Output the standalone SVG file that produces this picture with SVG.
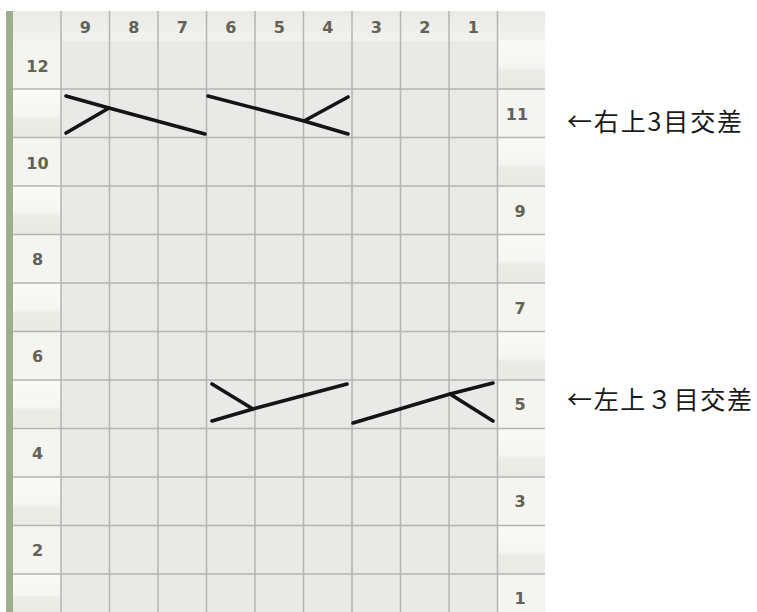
<svg xmlns="http://www.w3.org/2000/svg" width="757" height="612" viewBox="0 0 757 612">
<defs>
<linearGradient id="band" x1="0" y1="0" x2="0" y2="1">
<stop offset="0" stop-color="#fafaf7"/>
<stop offset="0.55" stop-color="#f5f5f1"/>
<stop offset="0.62" stop-color="#ececE7"/>
<stop offset="1" stop-color="#eaeae4"/>
</linearGradient>
<linearGradient id="head" x1="0" y1="0" x2="0" y2="1">
<stop offset="0" stop-color="#eaeae6"/>
<stop offset="0.5" stop-color="#ededea"/>
<stop offset="1" stop-color="#f1f1ee"/>
</linearGradient>
<style>
.cell{fill:#e9e9e7}
.lab{fill:#f4f4f0}
.grid{stroke:#b4b4b2;stroke-width:1.5;fill:none}
.num{font-family:"DejaVu Sans",Verdana,sans-serif;font-weight:bold;font-size:16px;fill:#626255;text-anchor:middle}
.cable{stroke:#141414;stroke-width:3.6;stroke-linecap:round;fill:none}
.note{font-family:"Noto Sans CJK JP","Noto Sans",sans-serif;font-size:25px;fill:#1a1a1a}
</style>
</defs>
<rect width="757" height="612" fill="#ffffff"/>
<g id="chart">
<rect x="6" y="11" width="7" height="601" fill="#9dae8c"/>
<rect x="61" y="11" width="436.5" height="601" class="cell"/>
<rect x="61" y="11" width="436.5" height="30" fill="url(#head)"/>
<rect x="13" y="11" width="48" height="30" fill="url(#head)"/>
<rect x="497.5" y="11" width="47.5" height="30" fill="url(#head)"/>
<rect x="13" y="40.5" width="48" height="48.5" class="lab"/>
<rect x="13" y="89" width="48" height="48.5" fill="url(#band)"/>
<rect x="13" y="137.5" width="48" height="48.5" class="lab"/>
<rect x="13" y="186" width="48" height="48.5" fill="url(#band)"/>
<rect x="13" y="234.5" width="48" height="48.5" class="lab"/>
<rect x="13" y="283" width="48" height="48.5" fill="url(#band)"/>
<rect x="13" y="331.5" width="48" height="48.5" class="lab"/>
<rect x="13" y="380" width="48" height="48.5" fill="url(#band)"/>
<rect x="13" y="428.5" width="48" height="48.5" class="lab"/>
<rect x="13" y="477" width="48" height="48.5" fill="url(#band)"/>
<rect x="13" y="525.5" width="48" height="48.5" class="lab"/>
<rect x="13" y="574" width="48" height="38" fill="url(#band)"/>
<rect x="497.5" y="40.5" width="47.5" height="48.5" fill="url(#band)"/>
<rect x="497.5" y="89" width="47.5" height="48.5" class="lab"/>
<rect x="497.5" y="137.5" width="47.5" height="48.5" fill="url(#band)"/>
<rect x="497.5" y="186" width="47.5" height="48.5" class="lab"/>
<rect x="497.5" y="234.5" width="47.5" height="48.5" fill="url(#band)"/>
<rect x="497.5" y="283" width="47.5" height="48.5" class="lab"/>
<rect x="497.5" y="331.5" width="47.5" height="48.5" fill="url(#band)"/>
<rect x="497.5" y="380" width="47.5" height="48.5" class="lab"/>
<rect x="497.5" y="428.5" width="47.5" height="48.5" fill="url(#band)"/>
<rect x="497.5" y="477" width="47.5" height="48.5" class="lab"/>
<rect x="497.5" y="525.5" width="47.5" height="48.5" fill="url(#band)"/>
<rect x="497.5" y="574" width="47.5" height="38" class="lab"/>
</g>
<g id="gridlines" class="grid">
<path d="M61 11V612M109.5 11V612M158 11V612M206.5 11V612M255 11V612M303.5 11V612M352 11V612M400.5 11V612M449 11V612M497.5 11V612"/>
<path d="M13 89H545M13 137.5H545M13 186H545M13 234.5H545M13 283H545M13 331.5H545M13 380H545M13 428.5H545M13 477H545M13 525.5H545M13 574H545"/>
</g>
<g id="column-numbers" class="num">
<text x="85.25" y="33">9</text>
<text x="133.75" y="33">8</text>
<text x="182.25" y="33">7</text>
<text x="230.75" y="33">6</text>
<text x="279.25" y="33">5</text>
<text x="327.75" y="33">4</text>
<text x="376.25" y="33">3</text>
<text x="424.75" y="33">2</text>
<text x="473.25" y="33">1</text>
</g>
<g id="row-numbers" class="num">
<text x="37.5" y="72">12</text>
<text x="517" y="120">11</text>
<text x="37.5" y="169">10</text>
<text x="520" y="217">9</text>
<text x="37.5" y="265">8</text>
<text x="520" y="314">7</text>
<text x="37.5" y="362">6</text>
<text x="520" y="410">5</text>
<text x="37.5" y="459">4</text>
<text x="520" y="507">3</text>
<text x="37.5" y="556">2</text>
<text x="520" y="604">1</text>
</g>
<g id="cable-right-row11" class="cable">
<path d="M66 96L109 108M66 133L109 108M109 108L205 134"/>
<path d="M208 96L304 121M304 121L348 97M304 121L348 134"/>
</g>
<g id="cable-left-row5" class="cable">
<path d="M212 384L253 409M212 421L253 409M253 409L347 384"/>
<path d="M353 423L450 394M450 394L493 383M450 394L493 421"/>
</g>
<g id="notes" class="note">
<text x="567" y="131" textLength="175" lengthAdjust="spacing">←右上3目交差</text>
<text x="567" y="409" textLength="185" lengthAdjust="spacing">←左上３目交差</text>
</g>
</svg>
